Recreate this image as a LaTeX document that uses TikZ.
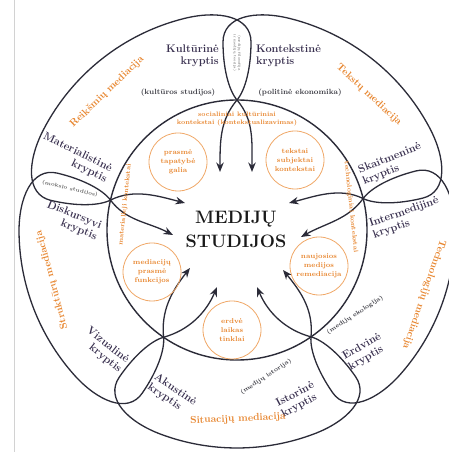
\documentclass[tikz,border=0pt]{standalone}
\usepackage{fontspec}
\usetikzlibrary{arrows.meta,calc}
\definecolor{ink}{HTML}{2B2B38}
\definecolor{lab}{HTML}{3A3150}
\definecolor{orng}{HTML}{E8862F}
\definecolor{orngc}{HTML}{F0A868}
\definecolor{smc}{HTML}{3C3C44}
\tikzset{
  lobeline/.style={draw=ink, line width=1.3pt, arrows={Stealth[length=9.5pt,width=7.5pt]-Stealth[length=9.5pt,width=7.5pt]}},
  krypt/.style={text=lab, font=\fontsize{11}{12}\selectfont\bfseries, inner sep=0pt},
  medtxt/.style={text=orng, font=\fontsize{10}{12}\selectfont\bfseries, inner sep=0pt},
  paren/.style={text=smc, font=\fontsize{7.5}{9}\selectfont\bfseries, inner sep=0pt},
  ocirc/.style={circle, draw=orngc, line width=0.8pt, minimum size=58pt, inner sep=0pt, text=orng, align=center, font=\fontsize{7}{9}\selectfont\bfseries},
  ctxtxt/.style={text=orng, font=\fontsize{6.5}{8}\selectfont\bfseries, align=center, inner sep=0pt}
}
% #1 a1, #2 a2, #3 b1, #4 b2, #5 target at a1, #6 target at a2 (controls named #5c, #6c)
\newcommand\lobe[6]{%
  \pgfmathsetmacro\sA{#1+14}\pgfmathsetmacro\eA{#2-14}%
  \draw[lobeline] (#5) .. controls (#5c) and ($(C)+(#1:110)+(#1+90:{1.2*#3})$) .. ($(C)+(#1:130)$)
   .. controls ($(C)+(#1:140)+(#1-90:{0.6*#3})$) and ($(C)+(#1:162)+(#1-90:#3)$) .. ($(C)+(#1:188)+(#1-90:#3)$)
   .. controls ($(C)+(#1:214)+(#1-90:#3)$) and ($(C)+(\sA:218)+(\sA-90:35)$) .. ($(C)+(\sA:218)$)
   arc[start angle=\sA, end angle=\eA, radius=218pt]
   .. controls ($(C)+(\eA:218)+(\eA+90:35)$) and ($(C)+(#2:214)+(#2+90:#4)$) .. ($(C)+(#2:188)+(#2+90:#4)$)
   .. controls ($(C)+(#2:162)+(#2+90:#4)$) and ($(C)+(#2:140)+(#2+90:{0.6*#4})$) .. ($(C)+(#2:130)$)
   .. controls ($(C)+(#2:110)+(#2-90:{1.2*#4})$) and (#6c) .. (#6);}
\begin{document}
\begin{tikzpicture}[x=1pt,y=1pt]
\fill[white] (0,0) rectangle (448,452);
\useasboundingbox (0,0) rectangle (448,452);
\draw[gray!35, line width=0.8pt] (14,0) -- (14,452);
\coordinate (C) at (237,222);
\coordinate (M) at (236,223);
% arrow targets and their approach controls
\coordinate (tT1) at (220,280);  \coordinate (tT1c) at (220,312);
\coordinate (tT2) at (252,280);  \coordinate (tT2c) at (252,312);
\coordinate (tL1) at (185,249);  \coordinate (tL1c) at (158,256);
\coordinate (tL2) at (173,217);  \coordinate (tL2c) at (148,230);
\coordinate (tR1) at (289,249);  \coordinate (tR1c) at (316,256);
\coordinate (tR2) at (301,215);  \coordinate (tR2c) at (326,229);
\coordinate (tBL1) at (190,184); \coordinate (tBL1c) at (171,160);
\coordinate (tBL2) at (217,165); \coordinate (tBL2c) at (206,139);
\coordinate (tBR1) at (257,165); \coordinate (tBR1c) at (268,139);
\coordinate (tBR2) at (283,182); \coordinate (tBR2c) at (302,159);
% inner circle
\draw[ink, line width=1.4pt] (C) circle[radius=130pt];
% lobes
\lobe{14}{90}{14}{14}{tR1}{tT2}
\lobe{90}{166.7}{14}{14}{tT1}{tL1}
\lobe{166.7}{235.6}{14}{14}{tL2}{tBL1}
\lobe{235.6}{304.7}{14}{14}{tBL2}{tBR1}
\lobe{304.7}{374}{14}{14}{tBR2}{tR2}
% centre title
\node[font=\fontsize{18}{24}\selectfont\bfseries, text=black!90, align=center] (main) at (236,222.5) {MEDIJŲ\\STUDIJOS};
% small circles
\node[ocirc] (c1) at (178,290) {prasmė\\tapatybė\\galia};
\node[ocirc] (c2) at (295,292) {tekstai\\subjektai\\kontekstai};
\node[ocirc] (c3) at (152,180) {mediacijų\\prasmė\\funkcijos};
\node[ocirc] (c4) at (319,186) {naujosios\\medijos\\remediacija};
\node[ocirc] (c5) at (232,122) {erdvė\\laikas\\tinklai};
% context texts
\node[ctxtxt] (ctx1) at (237,333) {socialiniai kultūriniai\\kontekstai (kontekstualizavimas)};
\node[ctxtxt, rotate=84] (ctx2) at (125,247) {materialieji kontekstai};
\node[ctxtxt, rotate=-84] (ctx3) at (351,245) {technologiniai kontekstai};
% kryptis labels
\node[krypt, anchor=east, align=right] (k1) at (219,396) {Kultūrinė\\kryptis};
\node[krypt, anchor=west, align=left] (k2) at (256,396) {Kontekstinė\\kryptis};
\node[paren] (p1) at (178,359) {(kultūros studijos)};
\node[paren] (p2) at (300,359) {(politinė ekonomika)};
\node[krypt, align=right, rotate=-26] (k3) at (75,294) {Materialistinė\\kryptis};
\node[krypt, align=right, rotate=-22] (k4) at (72,231) {Diskursyvi\\kryptis};
\node[text=gray!70!black, font=\fontsize{5}{6}\selectfont\bfseries, rotate=-13] (p3) at (70,263) {(mokslo studijos)};
\node[krypt, align=left, rotate=22] (k5) at (392,288) {Skaitmeninė\\kryptis};
\node[krypt, align=left, rotate=19] (k6) at (406,234) {Intermedijinė\\kryptis};
\node[krypt, align=right, rotate=-38] (k7) at (104,102) {Vizualinė\\kryptis};
\node[krypt, align=left, rotate=-34] (k8) at (172,57) {Akustinė\\kryptis};
\node[krypt, align=left, rotate=28] (k9) at (298,52) {Istorinė\\kryptis};
\node[krypt, align=left, rotate=30] (k10) at (365,100) {Erdvinė\\kryptis};
\node[paren, font=\fontsize{6}{7}\selectfont\bfseries, rotate=33] (p4) at (355,137) {(medijų ekologija)};
\node[paren, font=\fontsize{6}{7}\selectfont\bfseries, rotate=33] (p5) at (266,75) {(medijų istorija)};
\node[text=gray!60!black, font=\fontsize{3.5}{4.5}\selectfont, rotate=-90, align=center] (p6) at (237,399) {(medijų filosofija\\ir medijų teorija)};
% mediation labels
\node[medtxt, rotate=44] (m1) at (107,360) {Reikšmių mediacija};
\node[medtxt, rotate=-43] (m2) at (369,357) {Tekstų mediacija};
\node[medtxt, rotate=-109] (m3) at (424,157.5) {Technologijų mediacija};
\node[medtxt, rotate=2.5] (m4) at (238,33) {Situacijų mediacija};
\node[medtxt, rotate=105] (m5) at (52,172) {Struktūrų mediacija};
\end{tikzpicture}
\end{document}
